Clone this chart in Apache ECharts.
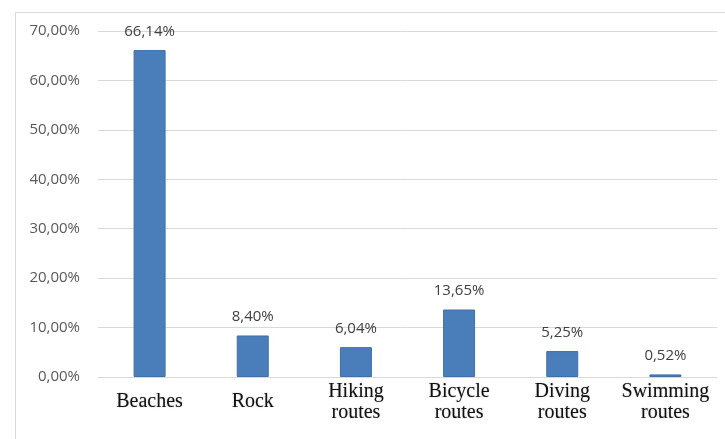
<!DOCTYPE html>
<html><head><meta charset="utf-8">
<script src="https://cdn.jsdelivr.net/npm/echarts@6/dist/echarts.min.js"></script>
<style>html,body{margin:0;padding:0;background:#fff}#c{width:725px;height:439px}</style>
</head><body><div id="c"></div>
<script>
var categories = ['Beaches', 'Rock', 'Hiking\nroutes', 'Bicycle\nroutes', 'Diving\nroutes', 'Swimming\nroutes'];
var values = [66.14, 8.40, 6.04, 13.65, 5.25, 0.52];
var yTicks = [0, 10, 20, 30, 40, 50, 60, 70];

function fmt(v) { return v.toFixed(2).replace('.', ',') + '%'; }

var chart = echarts.init(document.getElementById('c'), null, {renderer: 'canvas'});
chart.setOption({
  animation: false,
  backgroundColor: '#fff',
  graphic: [{
    type: 'rect', left: 13, top: 10, z: -1,
    shape: {width: 730, height: 450},
    style: {fill: 'none', stroke: '#d9d9d9', lineWidth: 1}
  }],
  grid: {left: 98, right: 8, top: 31, bottom: 62, containLabel: false},
  xAxis: {
    type: 'category', data: categories,
    axisTick: {show: false},
    axisLine: {lineStyle: {color: '#d9d9d9', width: 1}},
    axisLabel: {
      interval: 0, margin: 25, verticalAlign: 'middle',
      fontFamily: 'Liberation Serif', fontSize: 20, lineHeight: 21, color: '#111',
      textShadowColor: 'rgba(0,0,0,0.3)', textShadowBlur: 1.5
    }
  },
  yAxis: {
    type: 'value', min: yTicks[0], max: yTicks[yTicks.length - 1], interval: 10,
    axisLine: {show: false}, axisTick: {show: false},
    splitLine: {lineStyle: {color: '#d9d9d9', width: 1}},
    axisLabel: {
      margin: 18, fontFamily: 'Open Sans', fontSize: 15, color: '#595959',
      formatter: function (v) { return fmt(v); }
    }
  },
  series: [{
    type: 'bar', data: values, barWidth: '31%',
    itemStyle: {color: '#4a7ebb', borderColor: '#3f6fa8', borderWidth: 1},
    label: {
      show: true, position: 'top', distance: 11,
      fontFamily: 'Open Sans', fontSize: 15, color: '#404040',
      formatter: function (p) { return fmt(p.value); }
    }
  }]
});
</script></body></html>
